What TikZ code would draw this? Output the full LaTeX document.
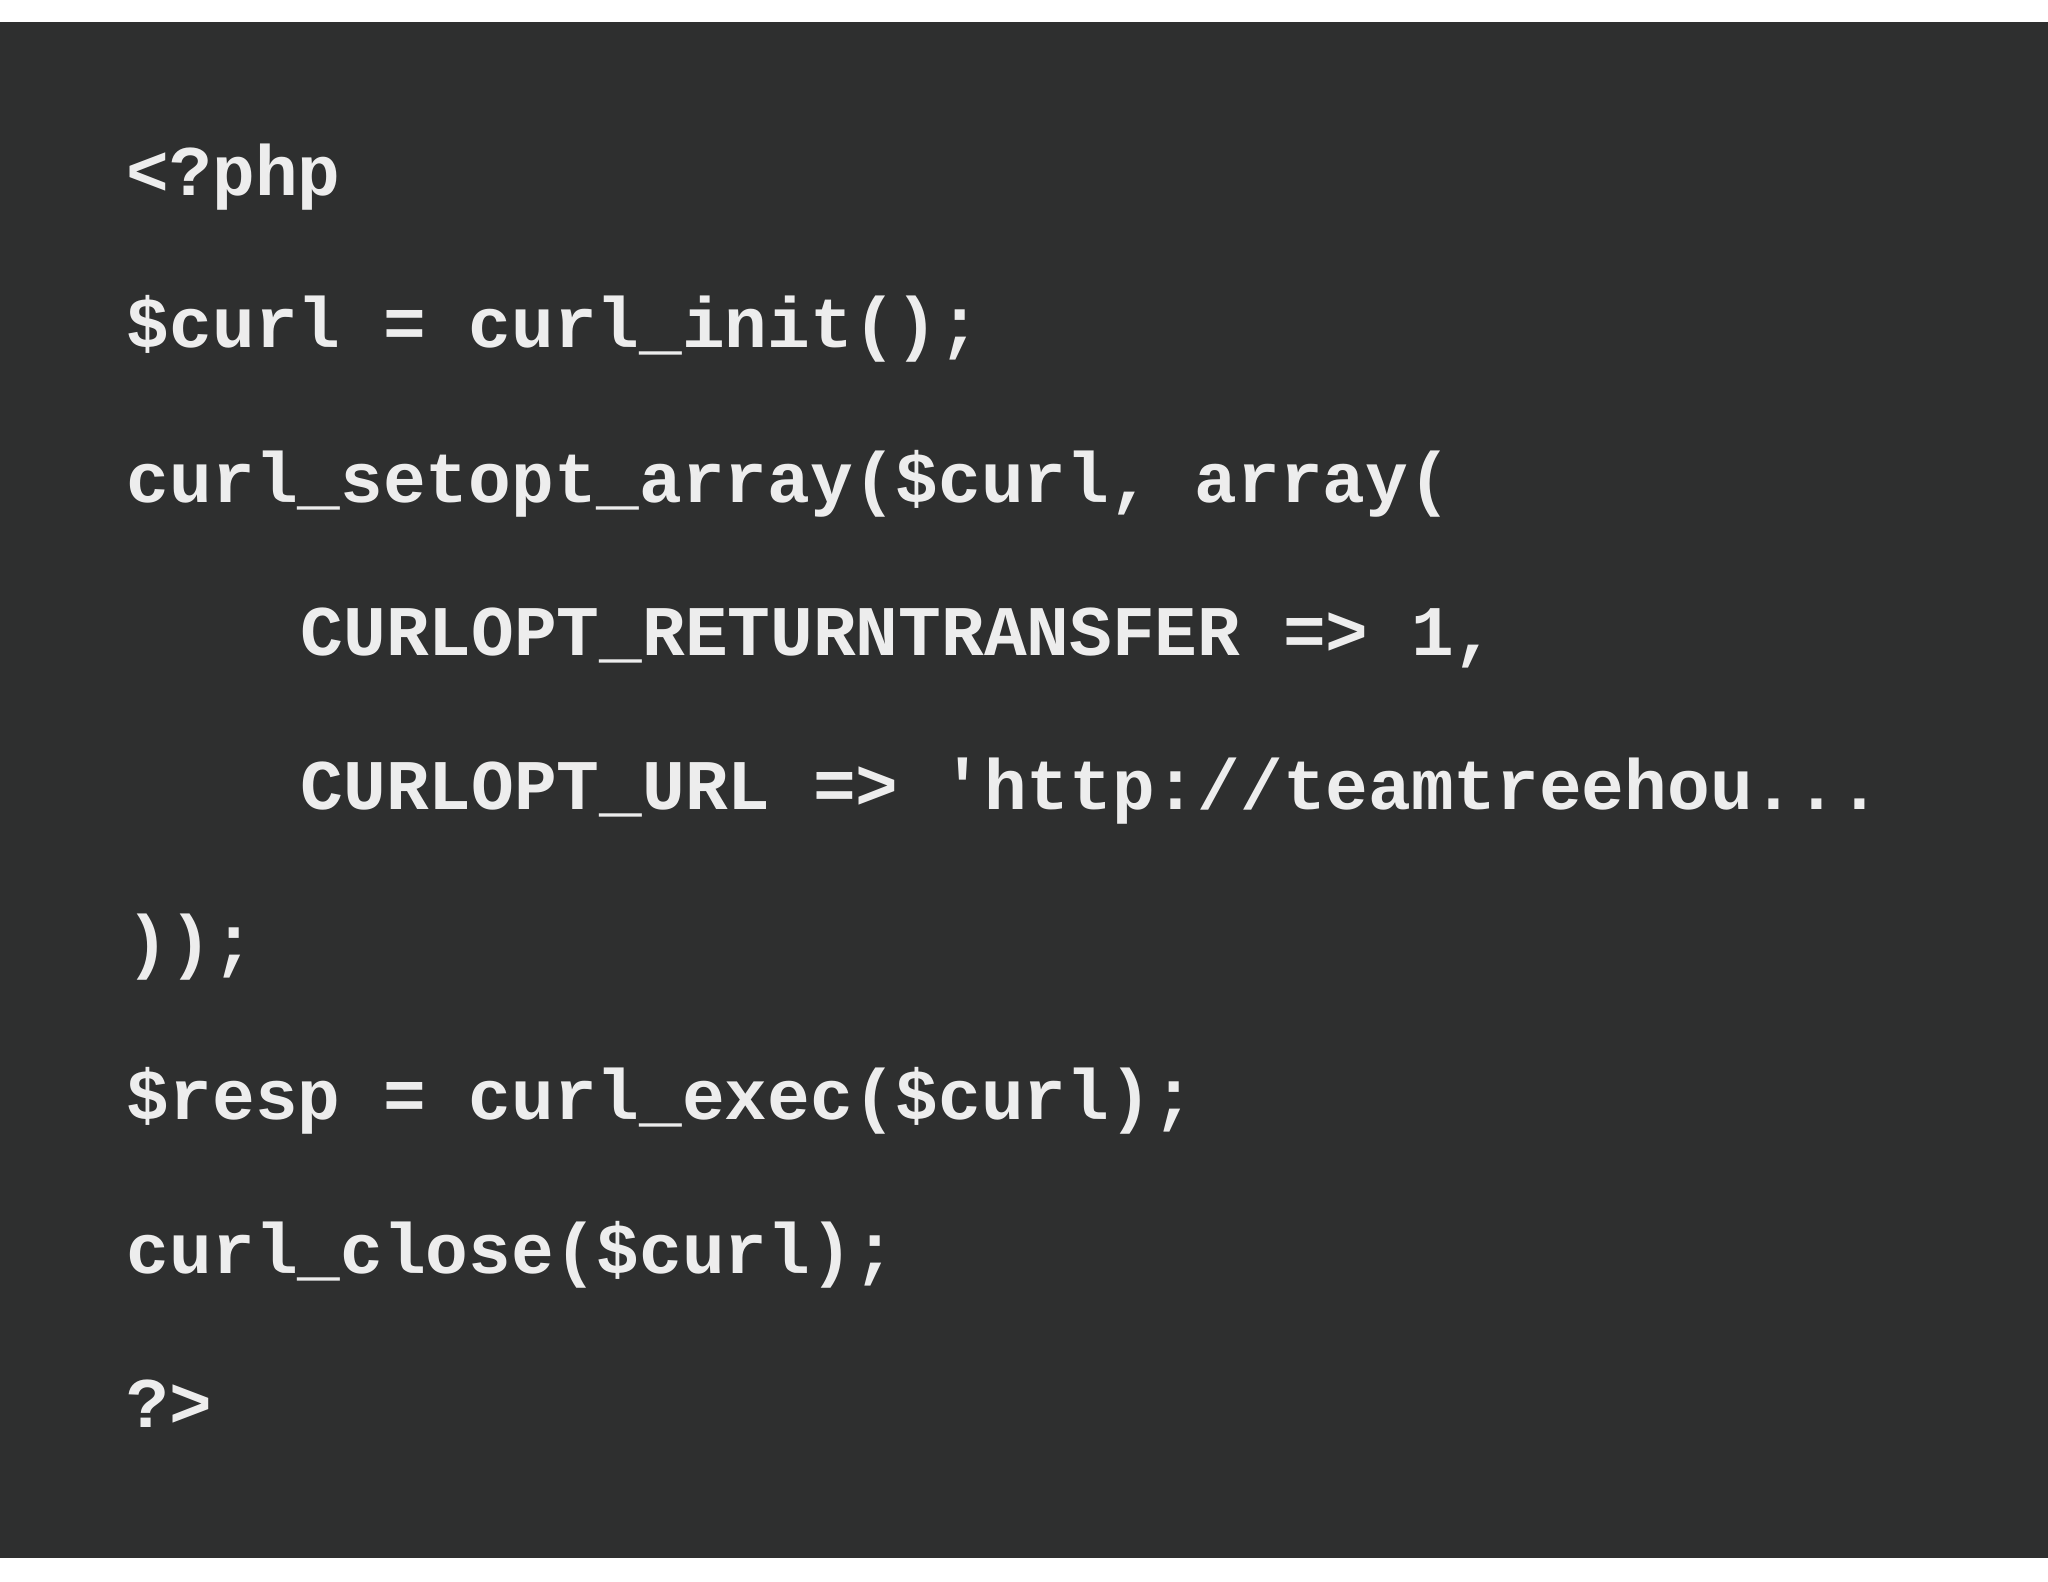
\documentclass[tikz,border=0pt]{standalone}
\usepackage{fontspec}
\setmonofont{Liberation Mono}
\definecolor{bg}{HTML}{2E2F2F}
\definecolor{fg}{HTML}{EDEDED}
\begin{document}
\begin{tikzpicture}[x=1pt,y=-1pt,
  code/.style={anchor=base west,inner sep=0pt,text=fg,font=\ttfamily\bfseries\fontsize{54.5}{60}\selectfont}]
\useasboundingbox (0,0) rectangle (1568,1211);
\fill[white] (0,0) rectangle (1568,1211);
\fill[bg] (0,17) rectangle (1568,1193);
\node[code] (l1) at (97,150) {<?php};
\node[code] (l2) at (97,266) {\$curl = curl\_init();};
\node[code] (l3) at (97,385) {curl\_setopt\_array(\$curl, array(};
\node[code] (l4) at (230,502) {CURLOPT\_RETURNTRANSFER => 1,};
\node[code] (l5) at (230,620) {CURLOPT\_URL => 'http://teamtreehou...};
\node[code] (l6) at (97,739) {));};
\node[code] (l7) at (97,857) {\$resp = curl\_exec(\$curl);};
\node[code] (l8) at (97,975) {curl\_close(\$curl);};
\node[code] (l9) at (97,1093) {?>};
\end{tikzpicture}
\end{document}
